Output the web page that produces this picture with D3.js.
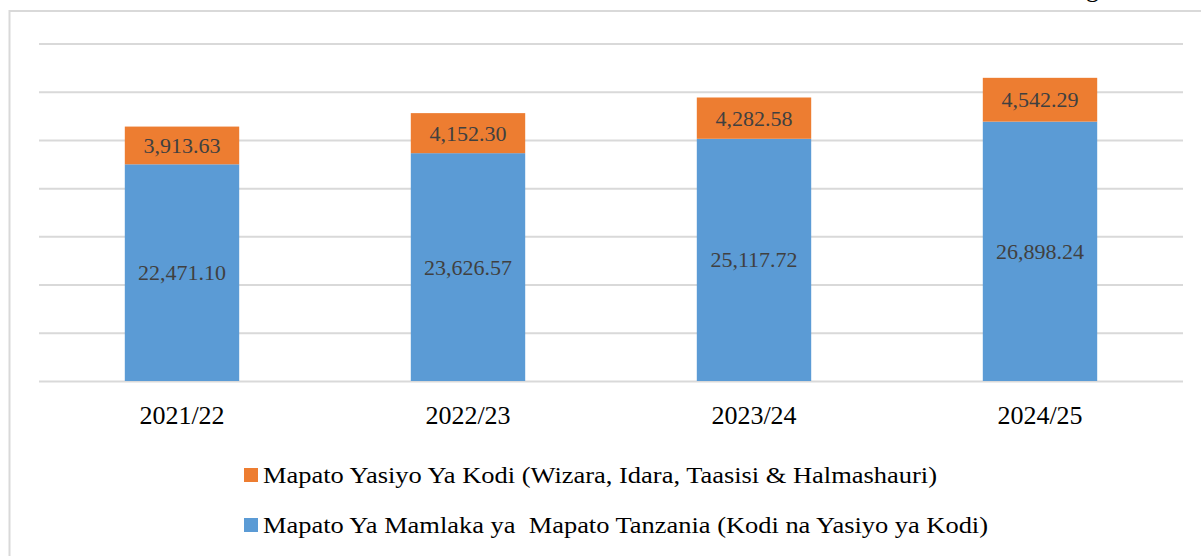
<!DOCTYPE html>
<html>
<head>
<meta charset="utf-8">
<script src="https://cdn.jsdelivr.net/npm/d3@7"></script>
<style>
  body { margin: 0; background: #fff; }
  svg text { font-family: "Liberation Serif", "DejaVu Serif", serif; }
</style>
</head>
<body>
<svg id="chart" width="1201" height="556"></svg>
<script>
// data
var years = ["2021/22", "2022/23", "2023/24", "2024/25"];
var traValues = [22471.10, 23626.57, 25117.72, 26898.24];   // blue, bottom
var nonTaxValues = [3913.63, 4152.30, 4282.58, 4542.29];    // orange, top
var yTicks = [0, 5000, 10000, 15000, 20000, 25000, 30000, 35000];
var seriesNames = [
  "Mapato Yasiyo Ya Kodi (Wizara, Idara, Taasisi & Halmashauri)",
  "Mapato Ya Mamlaka ya  Mapato Tanzania (Kodi na Yasiyo ya Kodi)"
];
var colours = ["#ED7D31", "#5B9BD5"];

var svg = d3.select("#chart");
var plotLeft = 39, plotRight = 1183, plotTop = 43.5, plotBottom = 381;

// outer frame, partly outside the window like the screenshot
svg.append("rect")
  .attr("x", 9.5).attr("y", 11)
  .attr("width", 1220).attr("height", 600)
  .attr("fill", "none").attr("stroke", "#d9d9d9").attr("stroke-width", 2);

// descender of cut off heading text
svg.append("text").attr("x", 1086).attr("y", -3)
  .attr("font-size", 26).attr("fill", "#000").text("g");

var x = d3.scaleBand().domain(years).range([plotLeft, plotRight])
  .paddingInner(0.6).paddingOuter(0.3);
var y = d3.scaleLinear().domain([0, 35000]).range([plotBottom, plotTop]);

// gridlines
var grid = svg.append("g")
  .attr("transform", "translate(" + plotLeft + ",0)")
  .call(d3.axisRight(y).tickValues(yTicks).tickSize(plotRight - plotLeft).tickFormat(""));
grid.select(".domain").remove();
grid.selectAll("line").attr("stroke", "#d9d9d9").attr("stroke-width", 2);

var fmt = d3.format(",.2f");

var rows = years.map(function(d, i) {
  return { year: d, tra: traValues[i], non: nonTaxValues[i] };
});

var bars = svg.append("g");
// blue segment
bars.selectAll(".tra").data(rows).enter().append("rect")
  .attr("class", "tra")
  .attr("x", function(d) { return x(d.year); })
  .attr("width", x.bandwidth())
  .attr("y", function(d) { return y(d.tra); })
  .attr("height", function(d) { return y(0) - y(d.tra); })
  .attr("fill", colours[1]);
// orange segment
bars.selectAll(".non").data(rows).enter().append("rect")
  .attr("class", "non")
  .attr("x", function(d) { return x(d.year); })
  .attr("width", x.bandwidth())
  .attr("y", function(d) { return y(d.tra + d.non); })
  .attr("height", function(d) { return y(d.tra) - y(d.tra + d.non); })
  .attr("fill", colours[0]);

// value labels
bars.selectAll(".traLabel").data(rows).enter().append("text")
  .attr("x", function(d) { return x(d.year) + x.bandwidth() / 2; })
  .attr("y", function(d) { return (y(0) + y(d.tra)) / 2; })
  .attr("text-anchor", "middle").attr("dominant-baseline", "central")
  .attr("font-size", 22).attr("fill", "#404040")
  .text(function(d) { return fmt(d.tra); });
bars.selectAll(".nonLabel").data(rows).enter().append("text")
  .attr("x", function(d) { return x(d.year) + x.bandwidth() / 2; })
  .attr("y", function(d) { return (y(d.tra) + y(d.tra + d.non)) / 2; })
  .attr("text-anchor", "middle").attr("dominant-baseline", "central")
  .attr("font-size", 22).attr("fill", "#404040")
  .text(function(d) { return fmt(d.non); });

// category axis
var xAxis = svg.append("g")
  .attr("transform", "translate(0," + plotBottom + ")")
  .call(d3.axisBottom(x).tickSize(0).tickPadding(25));
xAxis.select(".domain").remove();
xAxis.selectAll("text")
  .attr("font-family", "Liberation Serif, serif")
  .attr("font-size", 26).attr("fill", "#000");

// legend
var legendWidths = [674, 725];
var legend = svg.append("g");
var item = legend.selectAll("g").data(seriesNames).enter().append("g")
  .attr("transform", function(d, i) { return "translate(244," + (468 + i * 50) + ")"; });
item.append("rect").attr("width", 14).attr("height", 14)
  .attr("fill", function(d, i) { return colours[i]; });
item.append("text")
  .attr("x", 19).attr("y", 7)
  .attr("dominant-baseline", "central")
  .attr("font-size", 24).attr("fill", "#000")
  .attr("textLength", function(d, i) { return legendWidths[i]; })
  .attr("lengthAdjust", "spacingAndGlyphs")
  .style("white-space", "pre")
  .text(function(d) { return d; });
</script>
</body>
</html>
